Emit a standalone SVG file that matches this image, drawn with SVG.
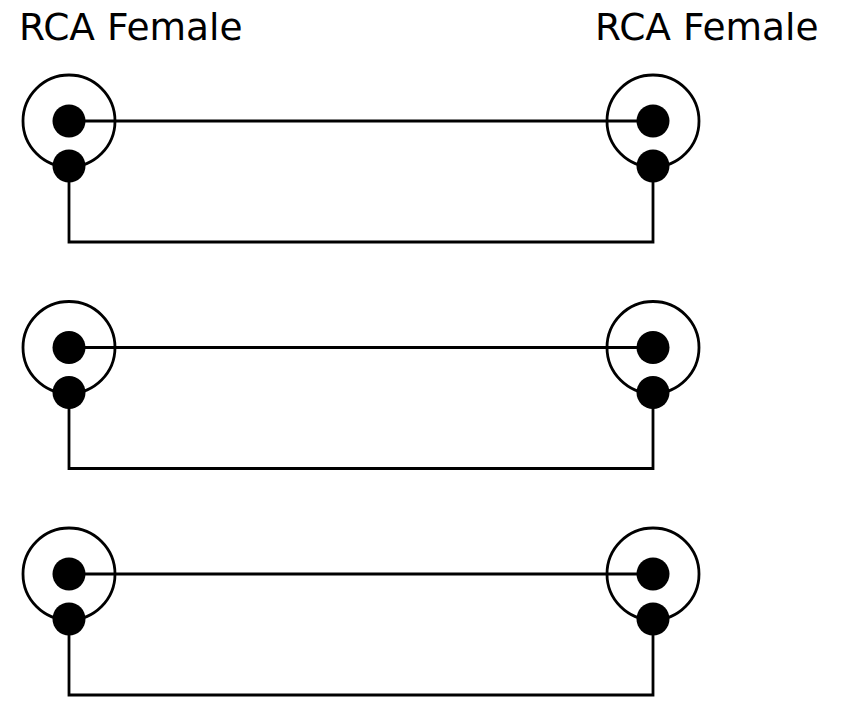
<svg xmlns="http://www.w3.org/2000/svg" width="843" height="707" viewBox="0 0 843 707">
<defs>
<style>
.lbl{font-family:"DejaVu Sans","Verdana",sans-serif;font-size:37.5px;fill:#000}
.ring{fill:none;stroke:#000;stroke-width:2.8}
.pin{fill:#000}
.wire{fill:none;stroke:#000;stroke-width:2.8}
</style>
<g id="rca">
<circle class="ring" cx="0" cy="0" r="46"/>
<circle class="pin" cx="0" cy="0" r="16.5"/>
<circle class="pin" cx="0" cy="45" r="16.5"/>
</g>
</defs>
<rect width="843" height="707" fill="#fff"/>
<text id="label-left" class="lbl" x="19" y="39.5">RCA Female</text>
<text id="label-right" class="lbl" x="595" y="39.5">RCA Female</text>
<g id="connectors">
<path class="wire" d="M69,121 H653 M69,166 V242 H653 V166"/>
<path class="wire" d="M69,347.5 H653 M69,392.5 V468.5 H653 V392.5"/>
<path class="wire" d="M69,574 H653 M69,619 V695 H653 V619"/>
</g>
<g id="row1-left"><use href="#rca" x="69" y="121"/></g>
<g id="row1-right"><use href="#rca" x="653" y="121"/></g>
<g id="row2-left"><use href="#rca" x="69" y="347.5"/></g>
<g id="row2-right"><use href="#rca" x="653" y="347.5"/></g>
<g id="row3-left"><use href="#rca" x="69" y="574"/></g>
<g id="row3-right"><use href="#rca" x="653" y="574"/></g>
</svg>
